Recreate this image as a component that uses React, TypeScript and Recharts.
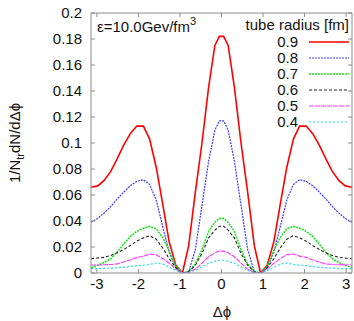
import { LineChart, Line, XAxis, YAxis } from 'recharts';

// delta phi sample points
const phi = [
  -3.14, -2.98, -2.83, -2.67, -2.51, -2.36, -2.2, -2.04, -1.88, -1.73, -1.57, -1.41, -1.26, -1.1,
  -0.94, -0.79, -0.63, -0.47, -0.31, -0.16, -0.05, 0.05, 0.16, 0.31, 0.47, 0.63, 0.79, 0.94, 1.1,
  1.26, 1.41, 1.57, 1.73, 1.88, 2.04, 2.2, 2.36, 2.51, 2.67, 2.83, 2.98, 3.14,
];

const r09 = [
  0.066, 0.067, 0.071, 0.078, 0.088, 0.098, 0.107, 0.113, 0.113, 0.103, 0.081, 0.052, 0.024, 0.006,
  0.0, 0.021, 0.062, 0.1, 0.143, 0.175, 0.182, 0.182, 0.175, 0.143, 0.1, 0.062, 0.021, 0.0, 0.006,
  0.024, 0.052, 0.081, 0.103, 0.113, 0.113, 0.107, 0.098, 0.088, 0.078, 0.071, 0.067, 0.066,
];
const r08 = [
  0.039, 0.042, 0.046, 0.051, 0.057, 0.062, 0.067, 0.0705, 0.0718, 0.068, 0.056, 0.035, 0.016, 0.004,
  0.0, 0.001, 0.018, 0.052, 0.086, 0.11, 0.117, 0.117, 0.11, 0.086, 0.052, 0.018, 0.001, 0.0, 0.004,
  0.016, 0.035, 0.056, 0.068, 0.0718, 0.0705, 0.067, 0.062, 0.057, 0.051, 0.046, 0.042, 0.039,
];
const r07 = [
  0.004, 0.006, 0.008, 0.011, 0.016, 0.022, 0.028, 0.032, 0.0345, 0.0358, 0.034, 0.027, 0.017, 0.005,
  0.0, 0.001, 0.007, 0.018, 0.032, 0.039, 0.042, 0.042, 0.039, 0.032, 0.018, 0.007, 0.001, 0.0, 0.005,
  0.017, 0.027, 0.034, 0.0358, 0.0345, 0.032, 0.028, 0.022, 0.016, 0.011, 0.008, 0.006, 0.004,
];
const r06 = [
  0.011, 0.0115, 0.012, 0.0135, 0.0155, 0.018, 0.021, 0.0245, 0.027, 0.0287, 0.026, 0.019, 0.011, 0.004,
  0.0, 0.001, 0.006, 0.015, 0.027, 0.033, 0.036, 0.036, 0.033, 0.027, 0.015, 0.006, 0.001, 0.0, 0.004,
  0.011, 0.019, 0.026, 0.0287, 0.027, 0.0245, 0.021, 0.018, 0.0155, 0.0135, 0.012, 0.0115, 0.011,
];
const r05 = [
  0.0062, 0.0062, 0.0063, 0.0065, 0.007, 0.0085, 0.01, 0.012, 0.013, 0.0146, 0.014, 0.011, 0.0075, 0.003,
  0.0, 0.0005, 0.003, 0.0075, 0.0125, 0.0155, 0.0168, 0.0168, 0.0155, 0.0125, 0.0075, 0.003, 0.0005, 0.0,
  0.003, 0.0075, 0.011, 0.014, 0.0146, 0.013, 0.012, 0.01, 0.0085, 0.007, 0.0065, 0.0063, 0.0062, 0.0062,
];
const r04 = [
  0.0033, 0.0033, 0.0035, 0.0038, 0.004, 0.0043, 0.005, 0.0056, 0.006, 0.0066, 0.0077, 0.0068, 0.0045,
  0.002, 0.0, 0.0004, 0.002, 0.0048, 0.0075, 0.009, 0.0098, 0.0098, 0.009, 0.0075, 0.0048, 0.002, 0.0004,
  0.0, 0.002, 0.0045, 0.0068, 0.0077, 0.0066, 0.006, 0.0056, 0.005, 0.0043, 0.004, 0.0038, 0.0035, 0.0033,
  0.0033,
];

const xTicks = [-3, -2, -1, 0, 1, 2, 3];
const yTicks = [0, 0.02, 0.04, 0.06, 0.08, 0.1, 0.12, 0.14, 0.16, 0.18, 0.2];

const radii = ['0.9', '0.8', '0.7', '0.6', '0.5', '0.4'];
const colors = ['#ff0000', '#3a3aff', '#22e022', '#222222', '#ff33ff', '#22dddd'];
const dashes = ['', '2 1', '2 1', '3 2', '5 1', '2 2'];
const widths = [1.6, 1.2, 1.6, 1.1, 1.1, 1.2];
const seriesKeys = ['r09', 'r08', 'r07', 'r06', 'r05', 'r04'];

const data = phi.map((p, i) => ({
  phi: p,
  r09: r09[i],
  r08: r08[i],
  r07: r07[i],
  r06: r06[i],
  r05: r05[i],
  r04: r04[i],
}));

const FONT = '"Liberation Sans", Arial, sans-serif';
const TICK = 4;
const BORDER = '#8c8c8c';

function fmtY(v: number) {
  return String(Number(v.toFixed(2)));
}

const LeftTick = (props: any) => {
  const { x, y, payload } = props;
  return (
    <g>
      <line x1={x} y1={y} x2={x + TICK} y2={y} stroke={BORDER} />
      <text x={x - 9} y={y + 5} textAnchor="end" fontSize={15} fontFamily={FONT} fill="#111">
        {fmtY(payload.value)}
      </text>
    </g>
  );
};

const RightTick = (props: any) => {
  const { x, y } = props;
  return <line x1={x} y1={y} x2={x - TICK} y2={y} stroke={BORDER} />;
};

const BottomTick = (props: any) => {
  const { x, y, payload } = props;
  return (
    <g>
      <line x1={x} y1={y} x2={x} y2={y - TICK} stroke={BORDER} />
      <text x={x} y={y + 16} textAnchor="middle" fontSize={15} fontFamily={FONT} fill="#111">
        {payload.value}
      </text>
    </g>
  );
};

const TopTick = (props: any) => {
  const { x, y } = props;
  return <line x1={x} y1={y} x2={x} y2={y + TICK} stroke={BORDER} />;
};

export default function App() {
  return (
    <div style={{ position: 'absolute', left: 0, top: 0, width: 354, height: 321, background: '#fff' }}>
      <LineChart
        width={354}
        height={321}
        data={data}
        margin={{ top: 12, right: 0, left: 0, bottom: 18 }}
      >
        <XAxis
          xAxisId="b"
          dataKey="phi"
          type="number"
          domain={[-3.1416, 3.1416]}
          ticks={xTicks}
          allowDataOverflow
          height={30}
          tickSize={0}
          tickMargin={0}
          tickLine={false}
          axisLine={{ stroke: BORDER }}
          tick={BottomTick}
          interval={0}
        />
        <XAxis
          xAxisId="t"
          orientation="top"
          dataKey="phi"
          type="number"
          domain={[-3.1416, 3.1416]}
          ticks={xTicks}
          allowDataOverflow
          height={1}
          tickSize={0}
          tickMargin={0}
          tickLine={false}
          axisLine={{ stroke: BORDER }}
          tick={TopTick}
          interval={0}
        />
        <YAxis
          yAxisId="l"
          type="number"
          domain={[0, 0.2]}
          ticks={yTicks}
          allowDataOverflow
          width={91}
          tickSize={0}
          tickMargin={0}
          tickLine={false}
          axisLine={{ stroke: BORDER }}
          tick={LeftTick}
          interval={0}
        />
        <YAxis
          yAxisId="r"
          orientation="right"
          type="number"
          domain={[0, 0.2]}
          ticks={yTicks}
          allowDataOverflow
          width={2}
          tickSize={0}
          tickMargin={0}
          tickLine={false}
          axisLine={{ stroke: BORDER }}
          tick={RightTick}
          interval={0}
        />
        {seriesKeys.map((k, i) => (
          <Line
            key={k}
            xAxisId="b"
            yAxisId="l"
            type="linear"
            dataKey={k}
            name={radii[i]}
            stroke={colors[i]}
            strokeWidth={widths[i]}
            strokeDasharray={dashes[i] || undefined}
            dot={false}
            isAnimationActive={false}
          />
        ))}
      </LineChart>

      {/* labels, annotation and legend drawn on top, gnuplot style */}
      <svg
        width={354}
        height={321}
        style={{ position: 'absolute', left: 0, top: 0, pointerEvents: 'none' }}
        fontFamily={FONT}
        fill="#111"
      >
        <text x={97} y={32} fontSize={15}>
          ε=10.0Gev/fm
          <tspan dy={-7} fontSize={11}>
            3
          </tspan>
        </text>
        <text x={349} y={30} fontSize={15} textAnchor="end">
          tube radius [fm]
        </text>
        {radii.map((r, i) => (
          <g key={r}>
            <text x={298} y={47 + i * 16} fontSize={15} textAnchor="end">
              {r}
            </text>
            <line
              x1={309}
              x2={349}
              y1={42 + i * 16}
              y2={42 + i * 16}
              stroke={colors[i]}
              strokeWidth={widths[i]}
              strokeDasharray={dashes[i] || undefined}
            />
          </g>
        ))}
        <text x={222} y={317} fontSize={15} textAnchor="middle">
          Δϕ
        </text>
        <text transform="translate(20,143) rotate(-90)" fontSize={15} textAnchor="middle">
          1/N
          <tspan dy={4} fontSize={11}>
            tr
          </tspan>
          <tspan dy={-4}>dN/dΔϕ</tspan>
        </text>
      </svg>
    </div>
  );
}
